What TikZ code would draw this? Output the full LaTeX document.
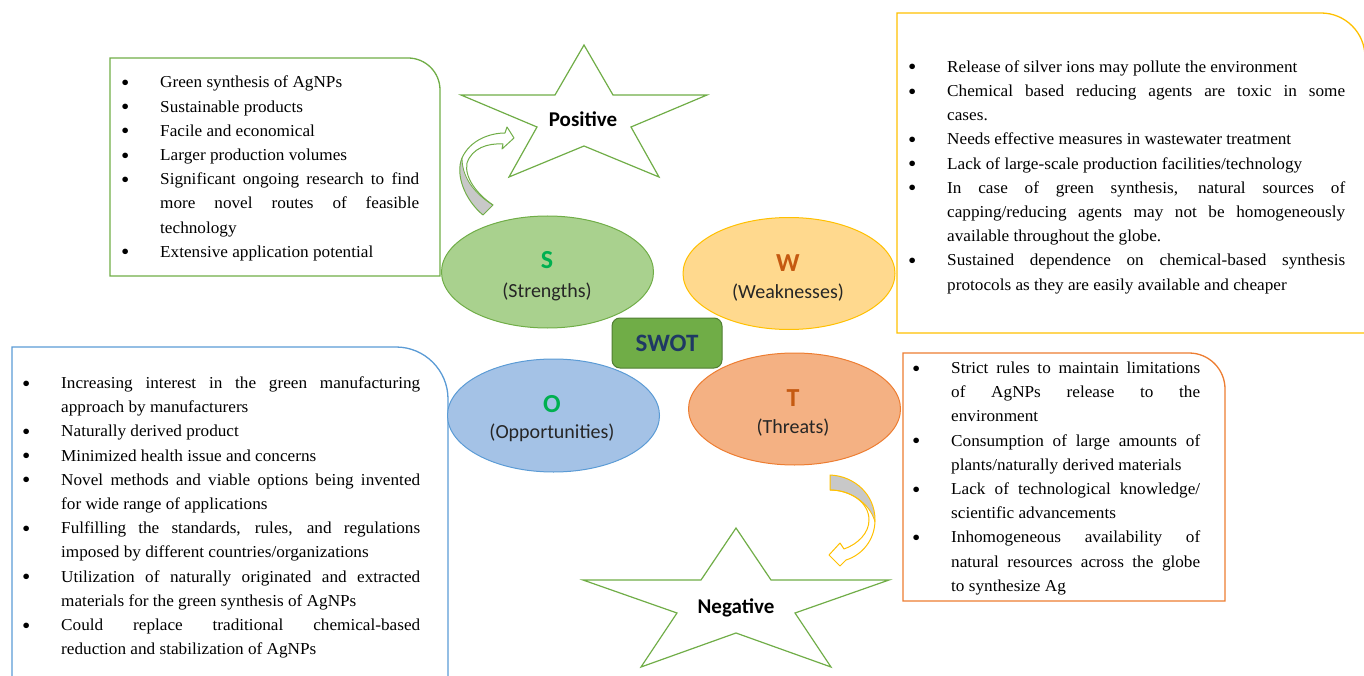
\documentclass[tikz,border=0pt]{standalone}
\usepackage{fontspec}
\usetikzlibrary{shapes.geometric}
\newfontfamily\bodyfont{Liberation Serif}[FakeStretch=1.03]
\newfontfamily\calfont{Carlito}
\definecolor{sgreen}{HTML}{70AD47}
\definecolor{sfill}{HTML}{A9D18E}
\definecolor{wgold}{HTML}{FFC000}
\definecolor{wfill}{HTML}{FFD98E}
\definecolor{oblue}{HTML}{5B9BD5}
\definecolor{ofill}{HTML}{A4C2E6}
\definecolor{torange}{HTML}{ED7D31}
\definecolor{tfill}{HTML}{F4B183}
\definecolor{letgreen}{HTML}{00B050}
\definecolor{letbrown}{HTML}{C55A11}
\definecolor{swotfill}{HTML}{70AD47}
\definecolor{swotline}{HTML}{507E32}
\definecolor{swottext}{HTML}{1F3864}
\definecolor{arrgray}{HTML}{C8C8C8}
\definecolor{labtext}{HTML}{262626}
\newcommand\bigbul{\raisebox{-2.6pt}{\fontsize{23}{23}\selectfont\textbullet}}
\newcommand\itm[1]{\par\noindent\hangindent=39pt\hangafter=1\strut\makebox[39pt][l]{\bigbul}#1\par}
\newcommand\boxsetup{\bodyfont\fontsize{16.7}{24.2}\selectfont\parskip=0pt\hyphenpenalty=10000\exhyphenpenalty=10000\tolerance=10000\hbadness=10000}
\tikzset{
  infobox/.style={line width=1.3pt},
  listtext/.style={anchor=north west, inner sep=0pt, align=justify, font=\boxsetup},
  swotell/.style={ellipse, line width=1pt, minimum width=212pt, minimum height=112pt, inner sep=0pt},
  bigletter/.style={anchor=base, font=\calfont\bfseries\fontsize{26}{26}\selectfont},
  ellabel/.style={anchor=base, text=labtext, font=\calfont\fontsize{20}{20}\selectfont},
  starline/.style={draw=sgreen, fill=white, line width=1.2pt, line join=miter},
  starlabel/.style={anchor=base, font=\calfont\bfseries\fontsize{21}{21}\selectfont},
}
\begin{document}
\begin{tikzpicture}[x=1pt,y=-1pt]
\useasboundingbox (0,0) rectangle (1364,676);
% information boxes
\draw[infobox, draw=sgreen] (110,276) -- (110,58) -- (408,58) .. controls (425.7,58) and (440,72.3) .. (440,90) -- (440,276) -- cycle;
\draw[infobox, draw=wgold] (897,333) -- (897,13) -- (1321,13) .. controls (1345.3,13) and (1365,32.7) .. (1365,57) -- (1365,333) -- cycle;
\draw[infobox, draw=oblue] (12,690) -- (12,347) -- (396,347) .. controls (424.7,347) and (448,370.3) .. (448,399) -- (448,690);
\draw[infobox, draw=torange] (903,601) -- (903,353) -- (1189,353) .. controls (1208.9,353) and (1225,369.1) .. (1225,389) -- (1225,601) -- cycle;
% list texts
\node[listtext, text width=298pt] (stxt) at (121,63.5) {%
\itm{Green synthesis of AgNPs}
\itm{Sustainable products}
\itm{Facile and economical}
\itm{Larger production volumes}
\itm{Significant ongoing research to find\linebreak more novel routes of feasible\linebreak technology}
\itm{Extensive application potential}};
\node[listtext, text width=437pt] (wtxt) at (908,48) {%
\itm{Release of silver ions may pollute the environment}
\itm{Chemical based reducing agents are toxic in some\linebreak cases.}
\itm{Needs effective measures in wastewater treatment}
\itm{Lack of large-scale production facilities/technology}
\itm{In case of green synthesis, natural sources of\linebreak capping/reducing agents may not be homogeneously\linebreak available throughout the globe.}
\itm{Sustained dependence on chemical-based synthesis\linebreak protocols as they are easily available and cheaper}};
\node[listtext, text width=398pt] (otxt) at (22,364) {%
\itm{Increasing interest in the green manufacturing\linebreak approach by manufacturers}
\itm{Naturally derived product}
\itm{Minimized health issue and concerns}
\itm{Novel methods and viable options being invented\linebreak for wide range of applications}
\itm{Fulfilling the standards, rules, and regulations\linebreak imposed by different countries/organizations}
\itm{Utilization of naturally originated and extracted\linebreak materials for the green synthesis of AgNPs}
\itm{Could replace traditional chemical-based\linebreak reduction and stabilization of AgNPs}};
\node[listtext, text width=288pt] (ttxt) at (912,349) {%
\itm{Strict rules to maintain limitations\linebreak of AgNPs release to the\linebreak environment}
\itm{Consumption of large amounts of\linebreak plants/naturally derived materials}
\itm{Lack of technological knowledge/\linebreak scientific advancements}
\itm{Inhomogeneous availability of\linebreak natural resources across the globe\linebreak to synthesize Ag}};
% SWOT ellipses
\node[swotell, draw=sgreen, fill=sfill] (S) at (547.5,272) {};
\node[swotell, draw=wgold, fill=wfill] (W) at (789,273.5) {};
\node[swotell, draw=oblue, fill=ofill, minimum height=113pt] (O) at (553.5,415.5) {};
\node[swotell, draw=torange, fill=tfill] (T) at (794.5,409) {};
\node[bigletter, text=letgreen] (sl) at (547,269) {S};
\node[ellabel] (sn) at (547,297) {(Strengths)};
\node[bigletter, text=letbrown] (wl) at (788,271) {W};
\node[ellabel] (wn) at (788,298) {(Weaknesses)};
\node[bigletter, text=letgreen] (ol) at (552,412) {O};
\node[ellabel] (on) at (552,438) {(Opportunities)};
\node[bigletter, text=letbrown] (tl) at (793,406) {T};
\node[ellabel] (tn) at (793,433) {(Threats)};
% SWOT centre box
\node[draw=swotline, fill=swotfill, line width=1pt, rounded corners=8pt, minimum width=110pt, minimum height=50pt, text=swottext, font=\calfont\bfseries\fontsize{25}{25}\selectfont, text depth=0pt] (swot) at (667,343) {SWOT};
% stars
\draw[starline] (584,45) -- (613,95) -- (707,95) -- (631,127) -- (659,177) -- (584,146) -- (509,177) -- (537,127) -- (461,95) -- (555,95) -- cycle;
\node[starlabel] (pos) at (583,127) {Positive};
\draw[starline] (736,528) -- (771,580) -- (889,580) -- (795,613) -- (831,667) -- (736,633) -- (641,667) -- (677,613) -- (583,580) -- (701,580) -- cycle;
\node[starlabel] (neg) at (736,613) {Negative};
% curved arrow to Positive
\fill[white] (483,215) .. controls (465,200) and (455,175) .. (462,158) .. controls (470,140) and (490,133) .. (505,133) -- (507,127) -- (514,138) -- (502,149) -- (503,144) .. controls (488,143) and (472,148) .. (467,163) .. controls (464,178) and (478,195) .. (493,205) -- cycle;
\fill[arrgray] (483,215) .. controls (465,200) and (455,175) .. (462,158) .. controls (462,180) and (478,196) .. (493,205) -- cycle;
\draw[draw=sgreen, line width=1pt, line join=round] (483,215) .. controls (465,200) and (455,175) .. (462,158) .. controls (470,140) and (490,133) .. (505,133) -- (507,127) -- (514,138) -- (502,149) -- (503,144) .. controls (488,143) and (472,148) .. (467,163) .. controls (464,178) and (478,195) .. (493,205) -- cycle;
\draw[draw=sgreen, line width=0.8pt] (462,158) .. controls (462,180) and (478,196) .. (493,205);
% curved arrow to Negative
\fill[white] (830,475) .. controls (855,476) and (875,495) .. (875,520) .. controls (875,540) and (862,555) .. (846,560) -- (840,566) -- (829,555) -- (840,543) -- (844,549) .. controls (858,544) and (869,533) .. (869,520) .. controls (869,502) and (850,490) .. (830,490) -- cycle;
\fill[arrgray] (830,475) .. controls (855,476) and (875,495) .. (875,522) .. controls (870,503) and (850,490) .. (830,490) -- cycle;
\draw[draw=wgold, line width=1pt, line join=round] (830,475) .. controls (855,476) and (875,495) .. (875,520) .. controls (875,540) and (862,555) .. (846,560) -- (840,566) -- (829,555) -- (840,543) -- (844,549) .. controls (858,544) and (869,533) .. (869,520) .. controls (869,502) and (850,490) .. (830,490) -- cycle;
\draw[draw=wgold, line width=0.8pt] (875,522) .. controls (870,503) and (850,490) .. (830,490);
\end{tikzpicture}
\end{document}
